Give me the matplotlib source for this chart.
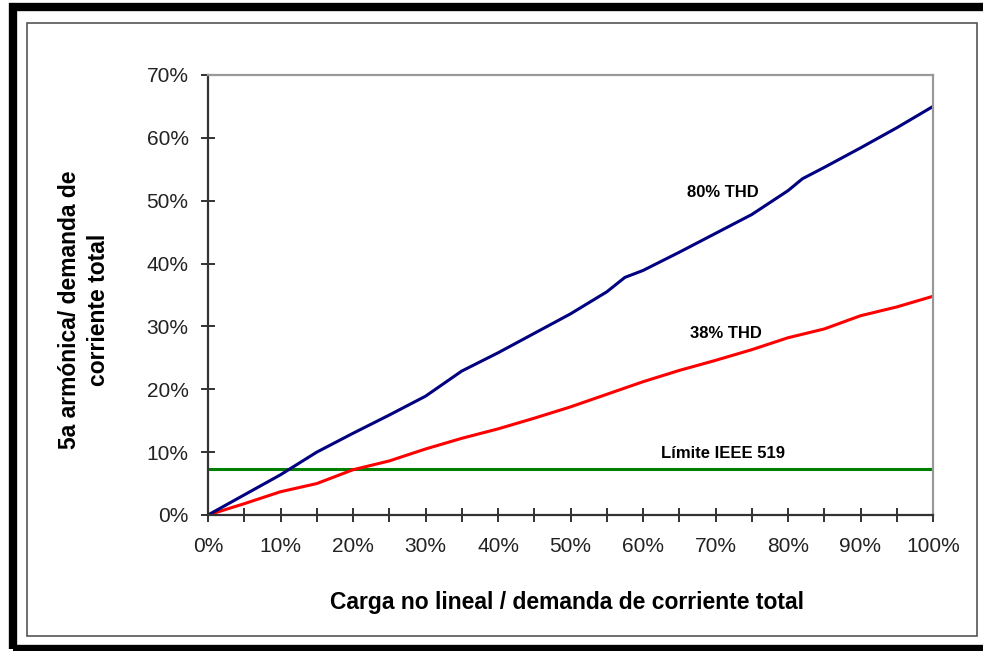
import matplotlib
matplotlib.use('Agg')
import matplotlib.pyplot as plt
from matplotlib.patches import Rectangle

# data (percent)
load_blue = [0, 5, 10, 15, 20, 25, 30, 35, 40, 45, 50, 55, 57.5, 60, 65, 70, 75, 80, 82, 85, 90, 95, 100]
thd80 = [0, 3.2, 6.4, 10.0, 13.0, 15.9, 18.9, 22.9, 25.8, 28.9, 32.0, 35.5, 37.8, 38.9, 41.8, 44.8, 47.8,
         51.6, 53.5, 55.3, 58.4, 61.6, 65.0]
load_red = [0, 5, 10, 15, 20, 25, 30, 35, 40, 45, 50, 55, 60, 65, 70, 75, 80, 85, 90, 95, 100]
thd38 = [0, 1.8, 3.7, 5.0, 7.2, 8.6, 10.5, 12.2, 13.7, 15.4, 17.2, 19.2, 21.2, 23.0, 24.6, 26.3, 28.2,
         29.6, 31.7, 33.1, 34.8]
ieee_limit = 7.3

x_ticks = list(range(0, 101, 5))
x_labels = [f'{v}%' if v % 10 == 0 else '' for v in x_ticks]
y_ticks = list(range(0, 71, 10))
y_labels = [f'{v}%' for v in y_ticks]

FONT = 'Liberation Sans'
BLUE = '#000080'
RED = '#ff0000'
GREEN = '#008000'

W, H = 983, 651
fig = plt.figure(figsize=(W / 100, H / 100), dpi=100)
fig.patch.set_facecolor('white')

# outer black frame (open on the right) and inner grey frame
fig.patches.append(Rectangle((12.5 / W, 1 - 648.5 / H), 1.2, (648.5 - 7) / H, transform=fig.transFigure,
                             fill=False, edgecolor='black', linewidth=6.0, zorder=0))
fig.patches.append(Rectangle((27 / W, 1 - 636 / H), (977 - 27) / W, (636 - 23) / H,
                             transform=fig.transFigure, fill=False, edgecolor='#555555',
                             linewidth=1.2, zorder=0))

ax = fig.add_axes([208 / W, 1 - 515 / H, (933 - 208) / W, (515 - 75) / H])
ax.plot([0, 100], [ieee_limit, ieee_limit], color=GREEN, linewidth=2.2, solid_capstyle='butt')
ax.plot(load_red, thd38, color=RED, linewidth=2.2)
ax.plot(load_blue, thd80, color=BLUE, linewidth=2.2)

ax.set_xlim(0, 100)
ax.set_ylim(0, 70)
ax.set_xticks(x_ticks, labels=x_labels)
ax.set_yticks(y_ticks, labels=y_labels)
ax.tick_params(direction='inout', length=10, width=1.3, color='#222222',
               labelsize=15, labelcolor='#222222')
ax.tick_params(axis='x', pad=11)
ax.tick_params(axis='y', pad=9)
for lab in ax.get_xticklabels() + ax.get_yticklabels():
    lab.set_fontfamily(FONT)

for side in ['left', 'bottom']:
    ax.spines[side].set_color('#333333')
    ax.spines[side].set_linewidth(1.6)
for side in ['top', 'right']:
    ax.spines[side].set_color('#999999')
    ax.spines[side].set_linewidth(1.6)

ax.text(71, 51.3, '80% THD', fontsize=12, fontweight='bold', family=FONT, ha='center', va='center')
ax.text(71.5, 28.8, '38% THD', fontsize=12, fontweight='bold', family=FONT, ha='center', va='center')
ax.text(71, 9.8, 'Límite IEEE 519', fontsize=12, fontweight='bold', family=FONT, ha='center', va='center')

fig.text(567 / W, 1 - 603 / H, 'Carga no lineal / demanda de corriente total', fontsize=16.5,
         fontweight='bold', family=FONT, ha='center', va='center')
fig.text(84 / W, 1 - 310 / H, '5a armónica/ demanda de\ncorriente total', fontsize=16.5,
         fontweight='bold', family=FONT, ha='center', va='center', rotation=90,
         multialignment='center', linespacing=1.3)

fig.savefig('out.png', dpi=100, facecolor='white')
